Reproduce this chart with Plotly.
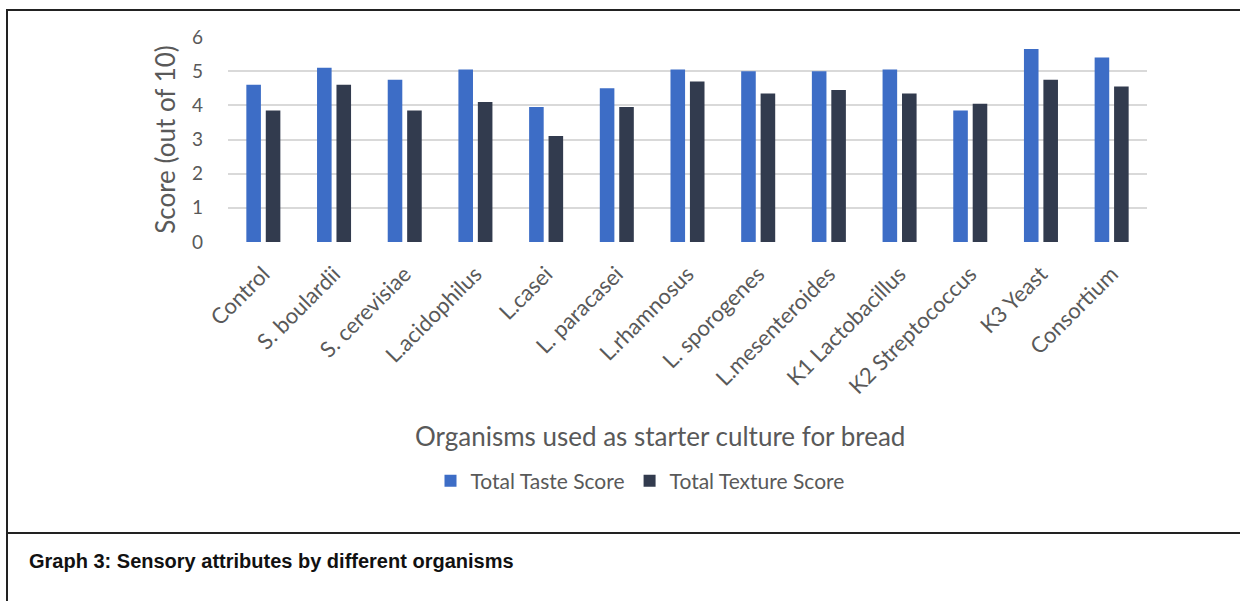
import plotly.graph_objects as go

categories = ["Control", "S. boulardii", "S. cerevisiae", "L.acidophilus", "L.casei",
              "L. paracasei", "L.rhamnosus", "L. sporogenes", "L.mesenteroides",
              "K1 Lactobacillus", "K2 Streptococcus", "K3 Yeast", "Consortium"]
taste = [4.6, 5.1, 4.75, 5.05, 3.95, 4.5, 5.05, 5.0, 5.0, 5.05, 3.85, 5.65, 5.4]
texture = [3.85, 4.6, 3.85, 4.1, 3.1, 3.95, 4.7, 4.35, 4.45, 4.35, 4.05, 4.75, 4.55]
y_ticks = [0, 1, 2, 3, 4, 5, 6]

W, H = 1240, 601
L, R, T, B = 228, 1147, 37, 242

def px(x):
    return (x - L) / (R - L)

def py(y):
    return (B - y) / (B - T)

font = "Lato, Open Sans, sans-serif"
grey = "#595959"

fig = go.Figure()
fig.add_trace(go.Bar(x=categories, y=taste, name="Total Taste Score",
                     marker=dict(color="#3D6DC6", line=dict(width=0))))
fig.add_trace(go.Bar(x=categories, y=texture, name="Total Texture Score",
                     marker=dict(color="#323B4E", line=dict(width=0))))

fig.update_layout(
    width=W, height=H,
    margin=dict(l=L, r=W - R, t=T, b=H - B, autoexpand=False),
    paper_bgcolor="white", plot_bgcolor="white",
    barmode="group", bargap=0.45, bargroupgap=0.25,
    font=dict(family=font, color=grey),
    showlegend=True,
    legend=dict(orientation="h", x=px(640), xanchor="center", y=py(481), yanchor="middle",
                font=dict(size=21, color=grey), itemwidth=30, traceorder="normal"),
    xaxis=dict(tickangle=-45, tickfont=dict(size=22, color=grey), showgrid=False,
               showline=False, ticks="", zeroline=False, ticklabelstandoff=14),
    yaxis=dict(range=[0, 6], tickvals=y_ticks, tickfont=dict(size=19, color=grey),
               gridcolor="#D9D9D9", gridwidth=1.5, zeroline=False, showline=False,
               ticks="", ticklabelstandoff=24,
               title=dict(text="Score (out of 10)", font=dict(size=26, color=grey), standoff=8)),
)

fig.add_annotation(text="Organisms used as starter culture for bread", xref="paper", yref="paper",
                   x=px(660), y=py(436), xanchor="center", yanchor="middle", showarrow=False,
                   font=dict(size=26, color=grey, family=font))
fig.add_annotation(text="<b>Graph 3: Sensory attributes by different organisms</b>",
                   xref="paper", yref="paper", x=px(27), y=py(561), xanchor="left",
                   yanchor="middle", showarrow=False,
                   font=dict(size=20, color="#111111", family="Liberation Sans, Arial, sans-serif"))

line = dict(color="#222222", width=2)
fig.add_shape(type="line", xref="paper", yref="paper", x0=px(6), x1=px(1240), y0=py(10), y1=py(10), line=line)
fig.add_shape(type="line", xref="paper", yref="paper", x0=px(7), x1=px(7), y0=py(10), y1=py(601), line=line)
fig.add_shape(type="line", xref="paper", yref="paper", x0=px(6), x1=px(1240), y0=py(533), y1=py(533), line=line)

fig.write_html("out.html")
